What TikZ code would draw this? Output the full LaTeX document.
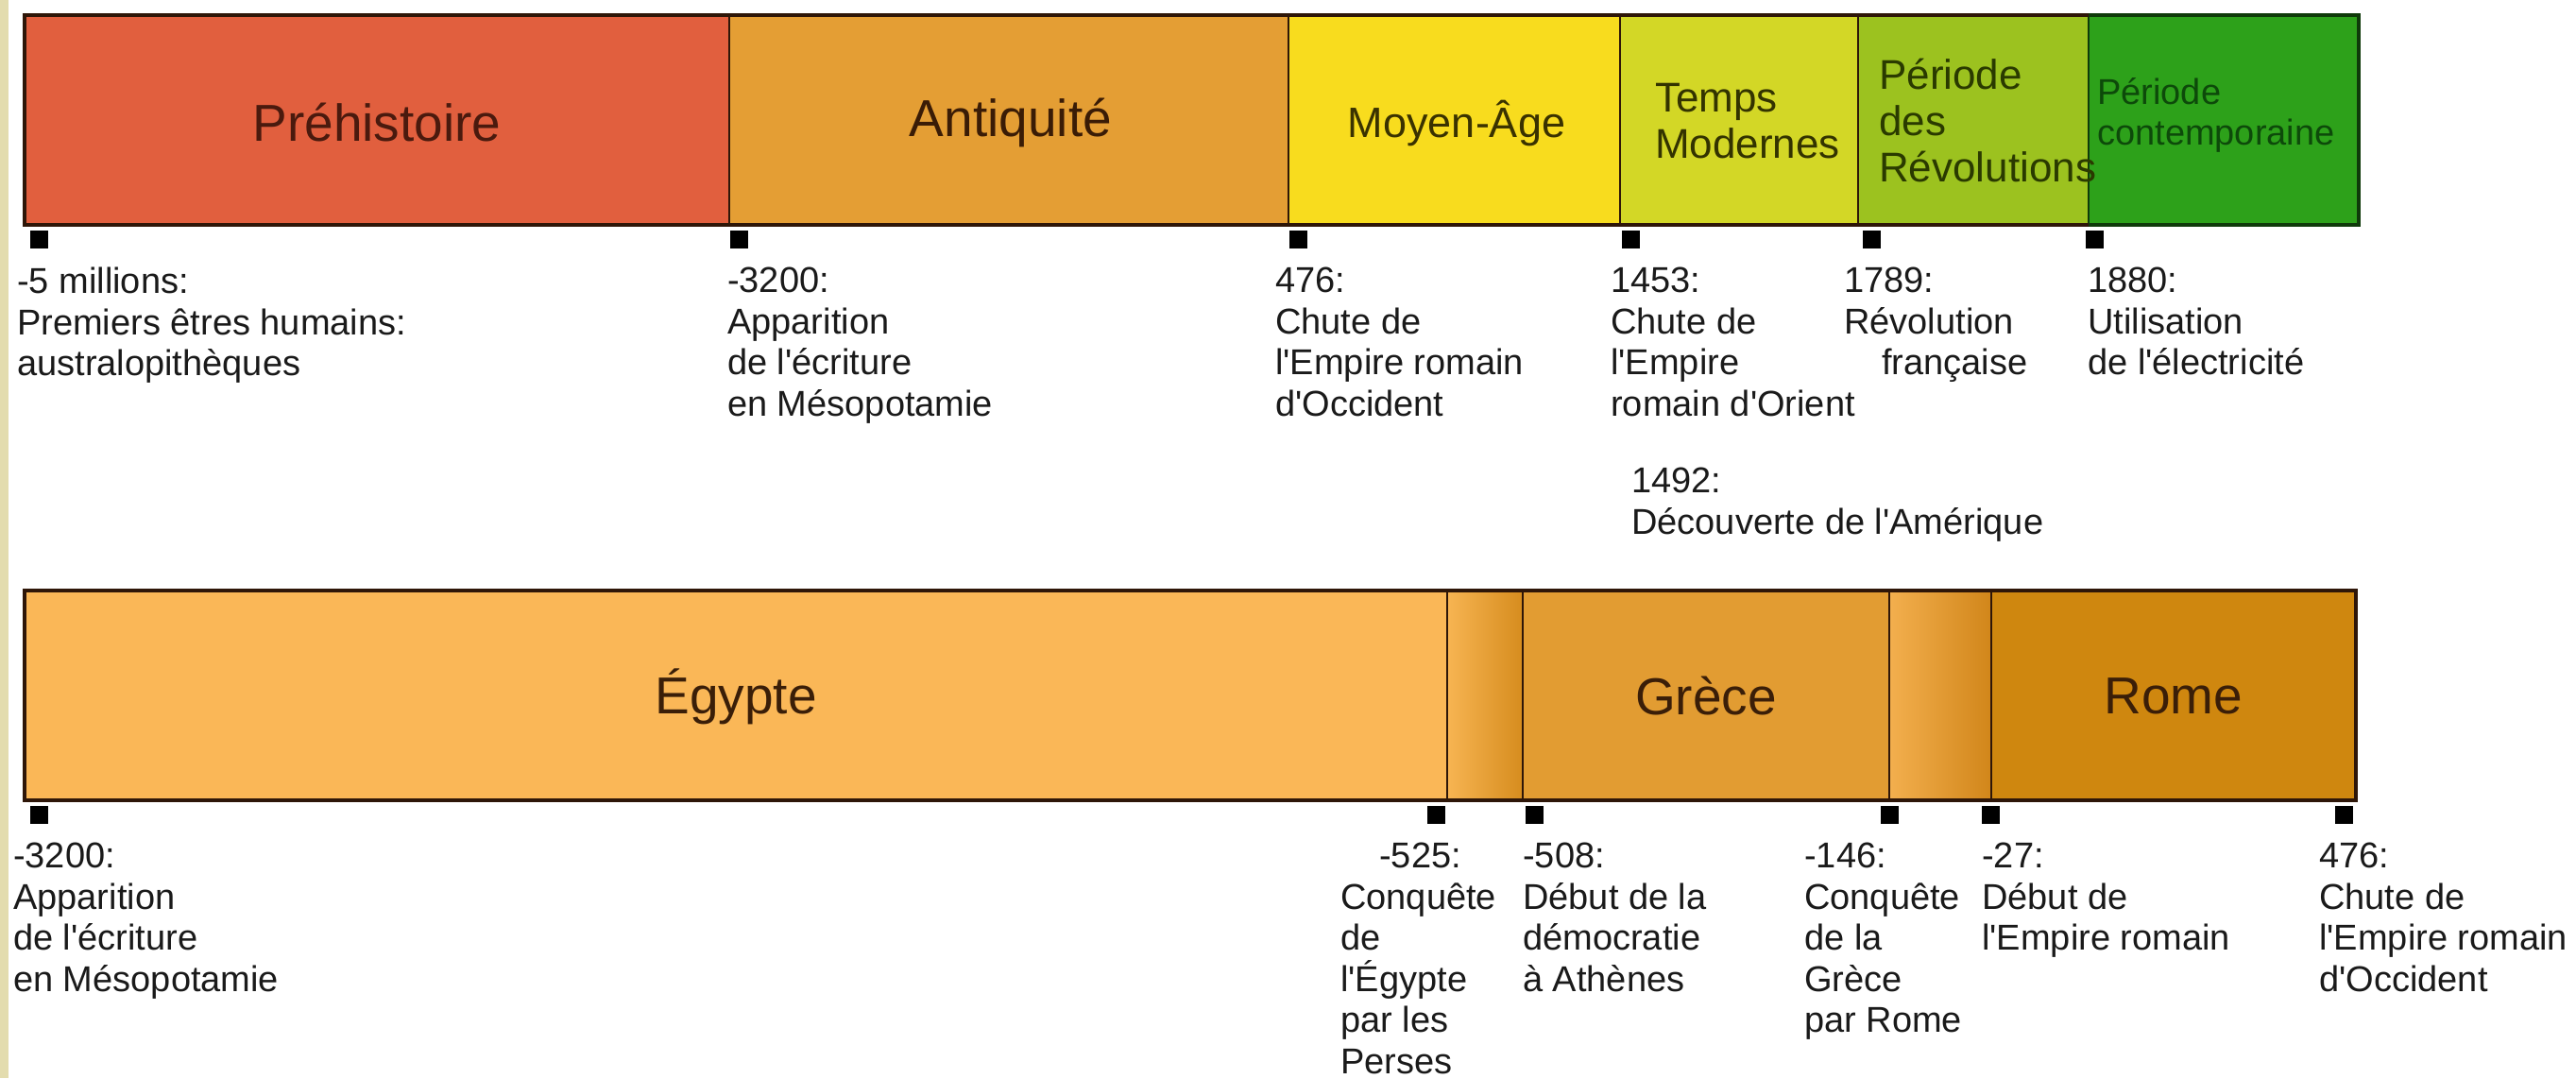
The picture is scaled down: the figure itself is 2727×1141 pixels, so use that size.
\documentclass[tikz,border=0pt]{standalone}
\usepackage{fontspec}
\setmainfont{Liberation Sans}[Ligatures=TeXOff]
\definecolor{cStripe}{HTML}{E3DCAE}
\definecolor{cPre}{HTML}{E15F3E}
\definecolor{cAnt}{HTML}{E49E34}
\definecolor{cMoy}{HTML}{F8DC1E}
\definecolor{cTmp}{HTML}{D3D726}
\definecolor{cRev}{HTML}{9CC21F}
\definecolor{cCon}{HTML}{2DA11A}
\definecolor{cEgy}{HTML}{FAB757}
\definecolor{cGre}{HTML}{E29C32}
\definecolor{cRom}{HTML}{CF870F}
\definecolor{gA1}{HTML}{F7B452}
\definecolor{gA2}{HTML}{D68C1E}
\definecolor{gB1}{HTML}{F3AF4E}
\definecolor{gB2}{HTML}{D1861A}
\definecolor{cLine}{HTML}{2E1608}
\definecolor{cLineG}{HTML}{0F3A0A}
\definecolor{tPre}{HTML}{4A1A0E}
\definecolor{tAnt}{HTML}{3A1C06}
\definecolor{tMoy}{HTML}{3A3200}
\definecolor{tTmp}{HTML}{333300}
\definecolor{tRev}{HTML}{2A3A00}
\definecolor{tCon}{HTML}{0D4A0A}
\definecolor{tBot}{HTML}{3A1E08}
\definecolor{cLbl}{HTML}{1A1A1A}
\begin{document}
\begin{tikzpicture}[x=1pt,y=-1pt,
  segbox/.style={draw=cLine,line width=2.5pt},
  tickbox/.style={fill=black},
  bigtxt/.style={font=\fontsize{55}{60}\selectfont,inner sep=0pt},
  midtxt/.style={font=\fontsize{44}{49}\selectfont,inner sep=0pt,align=left},
  smalltxt/.style={font=\fontsize{38}{43}\selectfont,inner sep=0pt,align=left},
  lbl/.style={font=\fontsize{38}{43.5}\selectfont,inner sep=0pt,align=left,anchor=north west,text=cLbl}]
\useasboundingbox (0,0) rectangle (2727,1141);
\fill[white] (0,0) rectangle (2727,1141);
\fill[cStripe] (0,0) rectangle (9,1141);

% ---------- top bar ----------
\path[segbox,fill=cPre] (26,16) rectangle (772,238);
\path[segbox,fill=cAnt] (772,16) rectangle (1364,238);
\path[segbox,fill=cMoy] (1364,16) rectangle (1715,238);
\path[segbox,fill=cTmp] (1715,16) rectangle (1967,238);
\path[segbox,fill=cRev] (1967,16) rectangle (2211,238);
\path[segbox,draw=cLineG,fill=cCon] (2211,16) rectangle (2497,238);
\draw[cLine,line width=3.5pt] (2211,16) -- (26,16) -- (26,238) -- (2211,238);
\draw[cLineG,line width=3.5pt] (2211,16) -- (2497,16) -- (2497,238) -- (2211,238);

\node[bigtxt,text=tPre] (pre) at (399,130) {Préhistoire};
\node[bigtxt,text=tAnt] (ant) at (1070,130) {Antiquité};
\node[font=\fontsize{45}{50}\selectfont,inner sep=0pt,text=tMoy] (moy) at (1542,130) {Moyen-Âge};
\node[midtxt,text=tTmp,anchor=west] (tmp) at (1752,128) {Temps\\Modernes};
\node[midtxt,text=tRev,anchor=west] (rev) at (1989,128) {Période\\des\\Révolutions};
\node[smalltxt,text=tCon,anchor=west] (con) at (2220,122) {Période\\contemporaine};

% top ticks
\fill[tickbox] (32,244) rectangle +(19,19);
\fill[tickbox] (773,244) rectangle +(19,19);
\fill[tickbox] (1365,244) rectangle +(19,19);
\fill[tickbox] (1717,244) rectangle +(19,19);
\fill[tickbox] (1972,244) rectangle +(19,19);
\fill[tickbox] (2208,244) rectangle +(19,19);

% top labels
\node[lbl] (l1) at (18,283) {-5 millions:\\Premiers êtres humains:\\australopithèques};
\node[lbl] (l2) at (770,283) {-3200:\\Apparition\\de l'écriture\\en Mésopotamie};
\node[lbl] (l3) at (1350,283) {476:\\Chute de\\l'Empire romain\\d'Occident};
\node[lbl] (l4) at (1705,283) {1453:\\Chute de\\l'Empire\\romain d'Orient};
\node[lbl] (l5) at (1952,283) {1789:\\Révolution\\\hspace*{40pt}française};
\node[lbl] (l6) at (2210,283) {1880:\\Utilisation\\de l'électricité};
\node[lbl] (l7) at (1727,495) {1492:\\Découverte de l'Amérique};

% ---------- bottom bar ----------
\path[segbox,fill=cEgy] (26,625) rectangle (1532,847);
\path[segbox,left color=gA1,right color=gA2] (1532,625) rectangle (1612,847);
\path[segbox,fill=cGre] (1612,625) rectangle (2000,847);
\path[segbox,left color=gB1,right color=gB2] (2000,625) rectangle (2108,847);
\path[segbox,fill=cRom] (2108,625) rectangle (2494,847);
\draw[cLine,line width=3.5pt] (26,625) rectangle (2494,847);

\node[bigtxt,text=tBot] (egy) at (779,737) {Égypte};
\node[bigtxt,text=tBot] (gre) at (1806,737) {Grèce};
\node[bigtxt,text=tBot] (rom) at (2301,737) {Rome};

% bottom ticks
\fill[tickbox] (32,853) rectangle +(19,19);
\fill[tickbox] (1511,853) rectangle +(19,19);
\fill[tickbox] (1615,853) rectangle +(19,19);
\fill[tickbox] (1991,853) rectangle +(19,19);
\fill[tickbox] (2098,853) rectangle +(19,19);
\fill[tickbox] (2472,853) rectangle +(19,19);

% bottom labels
\node[lbl] (b1) at (14,892) {-3200:\\Apparition\\de l'écriture\\en Mésopotamie};
\node[lbl] (b2) at (1419,892) {\hspace*{41pt}-525:\\Conquête\\de\\l'Égypte\\par les\\Perses};
\node[lbl] (b3) at (1612,892) {-508:\\Début de la\\démocratie\\à Athènes};
\node[lbl] (b4) at (1910,892) {-146:\\Conquête\\de la\\Grèce\\par Rome};
\node[lbl] (b5) at (2098,892) {-27:\\Début de\\l'Empire romain};
\node[lbl] (b6) at (2455,892) {476:\\Chute de\\l'Empire romain\\d'Occident};
\end{tikzpicture}
\end{document}
